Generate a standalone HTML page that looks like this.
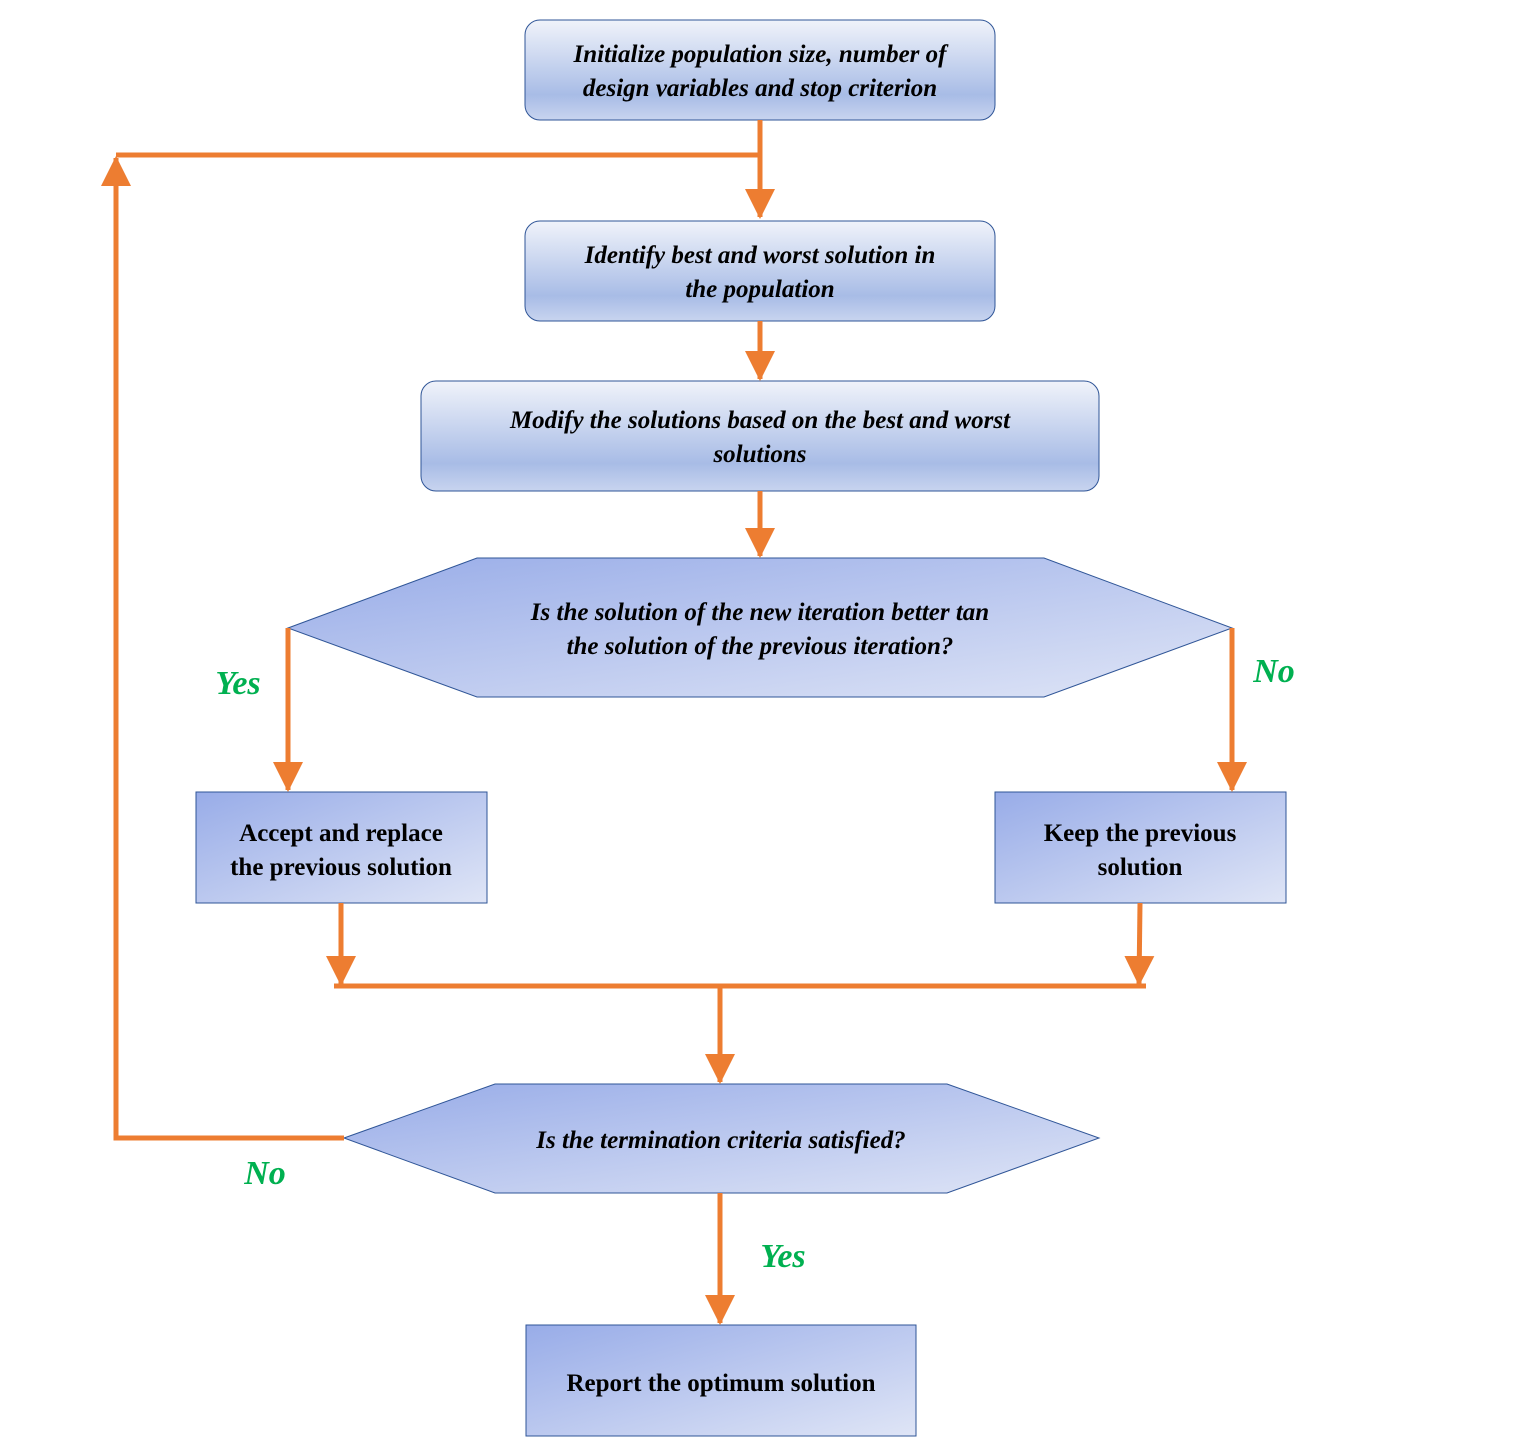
<!DOCTYPE html>
<html><head><meta charset="utf-8"><style>html,body{margin:0;padding:0;background:#fff}svg{display:block}</style></head>
<body>
<svg width="1519" height="1444" viewBox="0 0 1519 1444" xmlns="http://www.w3.org/2000/svg" font-family="Liberation Serif, serif" font-weight="bold">
<defs>
<linearGradient id="v" x1="0" y1="0" x2="0" y2="1">
<stop offset="0" stop-color="#f0f3fa"/><stop offset="0.75" stop-color="#a8bce6"/><stop offset="1" stop-color="#c8d4ef"/>
</linearGradient>
<linearGradient id="d" x1="0" y1="0" x2="1" y2="1">
<stop offset="0" stop-color="#98ace8"/><stop offset="1" stop-color="#dfe5f6"/>
</linearGradient>
<marker id="a" markerWidth="6" markerHeight="6" refX="5.6" refY="3" orient="auto" markerUnits="strokeWidth">
<path d="M0,0 L6,3 L0,6 z" fill="#ED7D31"/>
</marker>
</defs>
<g stroke="#2f5597" stroke-width="1">
<rect x="525" y="20" width="470" height="100" rx="15" fill="url(#v)"/>
<rect x="525" y="221" width="470" height="100" rx="15" fill="url(#v)"/>
<rect x="421" y="381" width="678" height="110" rx="15" fill="url(#v)"/>
<polygon points="288,628 477,558 1044,558 1232,628 1044,697 477,697" fill="url(#d)"/>
<rect x="196" y="792" width="291" height="111" fill="url(#d)"/>
<rect x="995" y="792" width="291" height="111" fill="url(#d)"/>
<polygon points="344,1138 495,1084 947,1084 1099,1138 947,1193 495,1193" fill="url(#d)"/>
<rect x="526" y="1325" width="390" height="111" fill="url(#d)"/>
</g>
<g stroke="#ED7D31" stroke-width="5" fill="none">
<line x1="760" y1="120" x2="760" y2="217" marker-end="url(#a)"/>
<polyline points="760,155 116,155"/>
<polyline points="344,1138 116,1138 116,158" marker-end="url(#a)"/>
<line x1="760" y1="321" x2="760" y2="379" marker-end="url(#a)"/>
<line x1="760" y1="491" x2="760" y2="556" marker-end="url(#a)"/>
<line x1="288" y1="628" x2="288" y2="790" marker-end="url(#a)"/>
<line x1="1232" y1="628" x2="1232" y2="790" marker-end="url(#a)"/>
<line x1="341" y1="903" x2="341" y2="984" marker-end="url(#a)"/>
<line x1="1140" y1="903" x2="1139" y2="984" marker-end="url(#a)"/>
<line x1="334" y1="986" x2="1146" y2="986"/>
<line x1="720" y1="986" x2="720" y2="1082" marker-end="url(#a)"/>
<line x1="720" y1="1193" x2="720" y2="1323" marker-end="url(#a)"/>
</g>
<g font-size="25" font-style="italic" text-anchor="middle" fill="#000">
<text x="760" y="62">Initialize population size, number of</text>
<text x="760" y="96">design variables and stop criterion</text>
<text x="760" y="263">Identify best and worst solution in</text>
<text x="760" y="297">the population</text>
<text x="760" y="428">Modify the solutions based on the best and worst</text>
<text x="760" y="462">solutions</text>
<text x="760" y="620">Is the solution of the new iteration better tan</text>
<text x="760" y="654">the solution of the previous iteration?</text>
<text x="721" y="1148">Is the termination criteria satisfied?</text>
</g>
<g font-size="25" text-anchor="middle" fill="#000">
<text x="341" y="841">Accept and replace</text>
<text x="341" y="875">the previous solution</text>
<text x="1140" y="841">Keep the previous</text>
<text x="1140" y="875">solution</text>
<text x="721" y="1391">Report the optimum solution</text>
</g>
<g font-size="34" font-style="italic" text-anchor="middle" fill="#00B050">
<text x="238" y="694">Yes</text>
<text x="1274" y="682">No</text>
<text x="265" y="1184">No</text>
<text x="783" y="1267">Yes</text>
</g>
</svg>
</body></html>
